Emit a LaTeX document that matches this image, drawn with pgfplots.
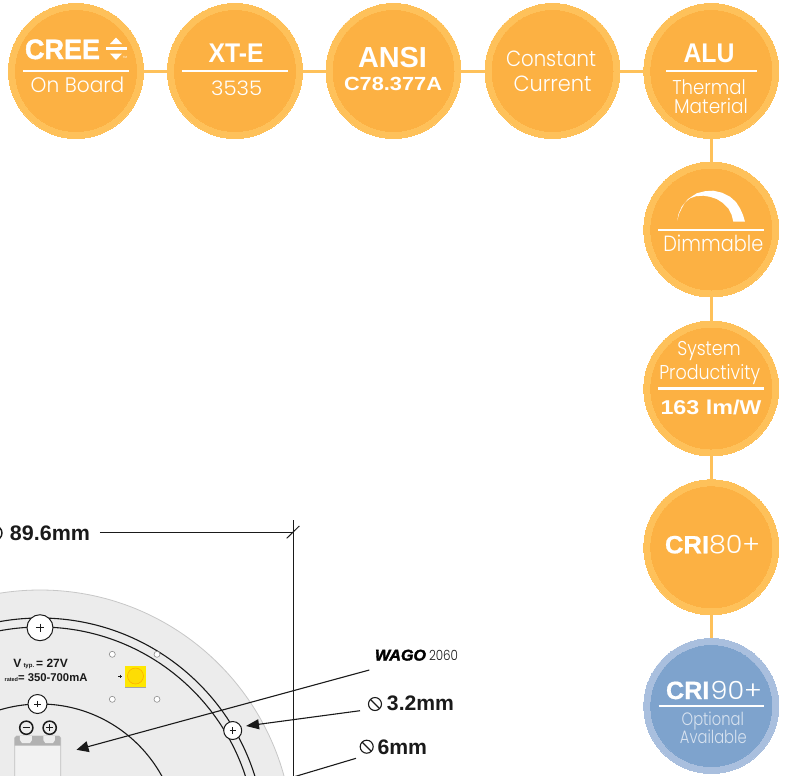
\documentclass[border=0pt]{standalone}
\usepackage{pgfplots}
\pgfplotsset{compat=1.18}
\usepackage{graphicx}
\usepackage{fontspec}
\usetikzlibrary{arrows.meta}
\setmainfont{Liberation Sans}
\newfontfamily\thinf{Poppins Light}
\newfontfamily\heavy[FakeBold=1.6]{Liberation Sans Bold}
\newfontfamily\heavyB[FakeBold=0.7]{Liberation Sans Bold}
\newfontfamily\heavyit[FakeBold=2.2]{Liberation Sans Bold Italic}
\definecolor{ringO}{HTML}{FEC15A}
\definecolor{fillO}{HTML}{FCB143}
\definecolor{ringB}{HTML}{A9BFDE}
\definecolor{fillB}{HTML}{7EA3CD}
\definecolor{optxt}{HTML}{D8E3F0}
\definecolor{board}{HTML}{ECECEC}
\definecolor{ink}{HTML}{1A1A1A}
\newcommand{\Disc}[6]{\addplot[only marks,mark=*,mark size=#3pt,mark options={fill=#4,draw=#5,line width=#6pt}] coordinates {(#1,#2)};}
\newcommand{\Ring}[5]{\addplot[only marks,mark=o,mark size=#3pt,mark options={draw=#4,line width=#5pt}] coordinates {(#1,#2)};}
\newcommand{\Seg}[6]{\addplot[#6,line width=#5pt] coordinates {(#1,#2) (#3,#4)};}
% cx, baseline, width, size, text
\newcommand{\Tn}[5]{\node[anchor=base,inner sep=0pt,text=white] at (axis cs:#1,#2) {\resizebox{#3pt}{\height}{\thinf\fontsize{#4}{#4}\selectfont #5}};}
\newcommand{\Tb}[5]{\node[anchor=base,inner sep=0pt,text=white] at (axis cs:#1,#2) {\resizebox{#3pt}{\height}{\bfseries\fontsize{#4}{#4}\selectfont #5}};}
\newcommand{\Th}[5]{\node[anchor=base,inner sep=0pt,text=white] at (axis cs:#1,#2) {\resizebox{#3pt}{\height}{\heavy\fontsize{#4}{#4}\selectfont #5}};}
\newcommand{\ThB}[5]{\node[anchor=base,inner sep=0pt,text=white] at (axis cs:#1,#2) {\resizebox{#3pt}{\height}{\heavyB\fontsize{#4}{#4}\selectfont #5}};}
\newcommand{\Tk}[5]{\node[anchor=base,inner sep=0pt,text=ink] at (axis cs:#1,#2) {\resizebox{#3pt}{\height}{\bfseries\fontsize{#4}{#4}\selectfont #5}};}
\begin{document}
\begin{tikzpicture}
\useasboundingbox (0,0) rectangle (787pt,776pt);
\begin{axis}[at={(0,0)},anchor=south west,scale only axis,width=787pt,height=776pt,
  xmin=0,xmax=787,ymin=0,ymax=776,y dir=reverse,hide axis,clip=false,clip marker paths=true]
% connectors
\addplot[ringO,line width=3pt] coordinates {(76,71) (711,71) (711,706)};
% board
\Disc{40}{843}{253}{board}{black!22}{0.8}
\Ring{40}{843}{225}{ink}{1.1}
\Ring{40}{843}{216}{ink}{1.1}
\Ring{40}{843}{139}{ink}{1.1}
% holes
\Disc{40}{627.7}{13}{white}{ink}{1}
\Disc{37.5}{704}{9.5}{white}{ink}{1}
\Disc{232.7}{730.5}{9}{white}{ink}{1}
\addplot[only marks,mark=+,mark size=4pt,mark options={draw=ink,line width=0.7pt}] coordinates {(40,627.7)};
\addplot[only marks,mark=+,mark size=3.2pt,mark options={draw=ink,line width=0.7pt}] coordinates {(37.5,704) (232.7,730.5)};
\addplot[only marks,mark=*,mark size=3pt,mark options={fill=white,draw=black!45,line width=0.6pt}] coordinates {(112.3,654.3) (157,654.3) (112.3,699.3) (157,699.3)};
% LED
\addplot[fill=black!35,draw=none] coordinates {(125,667) (146,667) (146,687.5) (125,687.5)};
\addplot[fill=yellow!90!orange,draw=none] coordinates {(125.3,666) (145.7,666) (145.7,686.5) (125.3,686.5)};
\Disc{135.5}{676}{8}{yellow!80!orange}{orange!70!yellow}{0.5}
\addplot[only marks,mark=+,mark size=1.8pt,mark options={draw=ink,line width=0.6pt}] coordinates {(120,676.5)};
% connector block
\addplot[fill=black!5,draw=black!25,line width=0.7pt] coordinates {(14.7,780) (14.7,738) (16.5,736) (58.9,736) (60.7,738) (60.7,780)};
\addplot[fill=black!30,draw=none] coordinates {(14.7,738) (16.5,736) (58.9,736) (60.7,738) (60.7,745.7) (14.7,745.7)};
\addplot[fill=black!7,draw=none] coordinates {(20,736) (32,736) (32,740) (30,743) (22,743) (20,740)};
\addplot[fill=black!7,draw=none] coordinates {(43.3,736) (55,736) (55,740) (53,743) (45.3,743) (43.3,740)};
\Disc{26.3}{727.7}{6.6}{board}{ink}{1.5}
\Disc{49.7}{727.7}{6.6}{board}{ink}{1.5}
\Seg{22.6}{727.7}{30}{727.7}{1.5}{ink}
\Seg{46}{727.7}{53.4}{727.7}{1.5}{ink}
\Seg{49.7}{724}{49.7}{731.4}{1.5}{ink}
% board text
\node[anchor=base west,inner sep=0pt,text=ink] at (axis cs:13.3,667.7) {\bfseries\fontsize{12}{12}\selectfont V\,{\fontsize{6}{6}\selectfont typ.}\,= 27V};
\node[anchor=base east,inner sep=0pt,text=ink] at (axis cs:87.7,681) {\bfseries\fontsize{5.5}{6}\selectfont rated{\fontsize{11.3}{12}\selectfont = 350-700mA}};
% dimension lines
\Seg{100}{532.6}{293}{532.6}{1.1}{ink}
\Seg{293}{520}{293}{776}{1}{ink}
\Seg{286.7}{538.3}{299.3}{526}{1}{ink}
\Tk{50}{540}{80}{21}{89.6mm}
\Ring{-5}{533}{7}{ink}{1.4}
% pointers
\addplot[ink,line width=1.1pt,-{Triangle[length=12pt,width=11pt]}] coordinates {(369.3,670) (76.5,749.8)};
\addplot[ink,line width=1.1pt,-{Triangle[length=13pt,width=10pt]}] coordinates {(360,710.7) (246,726)};
\addplot[ink,line width=1.1pt] coordinates {(356,758.3) (290,778)};
% labels right
\Ring{375}{704}{6.5}{ink}{1.1}
\Seg{370.5}{699.5}{379.5}{708.5}{1.1}{ink}
\Tk{420.5}{710.7}{67}{21}{3.2mm}
\Ring{366.7}{746.7}{6.5}{ink}{1.1}
\Seg{362.2}{742.2}{371.2}{751.2}{1.1}{ink}
\Tk{402.3}{754}{49.5}{21}{6mm}
\node[anchor=base,inner sep=0pt,text=black] at (axis cs:400.5,660.5) {\resizebox{51pt}{\height}{\heavyit\fontsize{15.5}{16}\selectfont WAGO}};
\node[anchor=base,inner sep=0pt,text=ink] at (axis cs:443.5,660.5) {\resizebox{29pt}{\height}{\thinf\fontsize{14}{14}\selectfont 2060}};
% badges
\Disc{76}{71}{67.5}{ringO}{ringO}{0}
\Disc{76}{71}{60.5}{fillO}{fillO}{0}
\Disc{235}{71}{67.5}{ringO}{ringO}{0}
\Disc{235}{71}{60.5}{fillO}{fillO}{0}
\Disc{393.5}{71}{67.5}{ringO}{ringO}{0}
\Disc{393.5}{71}{60.5}{fillO}{fillO}{0}
\Disc{552.5}{71}{67.5}{ringO}{ringO}{0}
\Disc{552.5}{71}{60.5}{fillO}{fillO}{0}
\Disc{711.3}{71}{67.5}{ringO}{ringO}{0}
\Disc{711.3}{71}{60.5}{fillO}{fillO}{0}
\Disc{711.3}{229.5}{67.5}{ringO}{ringO}{0}
\Disc{711.3}{229.5}{60.5}{fillO}{fillO}{0}
\Disc{711.3}{388.5}{67.5}{ringO}{ringO}{0}
\Disc{711.3}{388.5}{60.5}{fillO}{fillO}{0}
\Disc{711.3}{547.3}{67.5}{ringO}{ringO}{0}
\Disc{711.3}{547.3}{60.5}{fillO}{fillO}{0}
\Disc{711.3}{706}{67.5}{ringB}{ringB}{0}
\Disc{711.3}{706}{60.5}{fillB}{fillB}{0}
% white rules
\Seg{23}{71}{129}{71}{2.2}{white}
\Seg{182}{71}{288}{71}{2.2}{white}
\Seg{666}{71}{757}{71}{2.2}{white}
\Seg{658}{230}{764}{230}{2.2}{white}
\Seg{658}{388.5}{764}{388.5}{2.2}{white}
\Seg{658.5}{706}{764}{706}{2.2}{white}
% CREE arrows
\addplot[fill=white,draw=none] coordinates {(116,37.5) (122,44) (110,44)};
\addplot[fill=white,draw=none] coordinates {(116,60) (122,53.5) (110,53.5)};
\Seg{106.5}{48.5}{127.5}{48.5}{3}{white}
\node[anchor=base,inner sep=0pt,text=white] at (axis cs:125,58) {\fontsize{3}{3}\selectfont TM};
% Dimmable icon
\addplot[fill=white,draw=none] coordinates {(677.3,220.7) (678.5,214) (681.7,206.7) (688,199) (696.7,193.3) (705,191.2) (713.3,190.7) (722,192.7) (730,196.7) (736,202) (740,208.3) (743,215) (745,221.7) (733.3,221.7) (731.5,214.5) (728.3,208.3) (723,203) (716.7,199) (710,196.8) (703.3,195.7) (696,196.2) (690,198.3) (685,202.5) (681.7,208.3) (679,214)};
% badge text
\Th{62.5}{59}{75}{28}{CREE}
\Tn{77.5}{92.3}{93.5}{21}{On Board}
\Tb{236}{62}{55}{27}{XT-E}
\Tn{236.7}{95}{51}{20}{3535}
\Tb{392.5}{67}{69}{29}{ANSI}
\Tb{393}{90.7}{98}{19}{C78.377A}
\Tn{551}{66.7}{90}{22}{Constant}
\Tn{552.5}{91}{78}{22}{Current}
\Tb{709}{62}{51}{27}{ALU}
\Tn{709}{94.3}{73.4}{20}{Thermal}
\Tn{711}{113.3}{73.7}{20}{Material}
\Tn{713.3}{251.7}{100}{22}{Dimmable}
\Tn{709}{355}{63.4}{20}{System}
\Tn{709.7}{379}{100.7}{20}{Productivity}
\Tb{711}{414}{101}{20}{163 lm/W}
\ThB{687}{553.3}{44}{25}{CRI}
\Tn{734.5}{553.3}{51}{25}{80+}
\ThB{687.7}{699}{43.4}{25}{CRI}
\Tn{736.3}{699}{51.4}{25}{90+}
\node[anchor=base,inner sep=0pt,text=optxt] at (axis cs:712.8,725) {\resizebox{62.3pt}{\height}{\thinf\fontsize{18}{18}\selectfont Optional}};
\node[anchor=base,inner sep=0pt,text=optxt] at (axis cs:713.3,743.3) {\resizebox{66.7pt}{\height}{\thinf\fontsize{18}{18}\selectfont Available}};
\end{axis}
\end{tikzpicture}
\end{document}
